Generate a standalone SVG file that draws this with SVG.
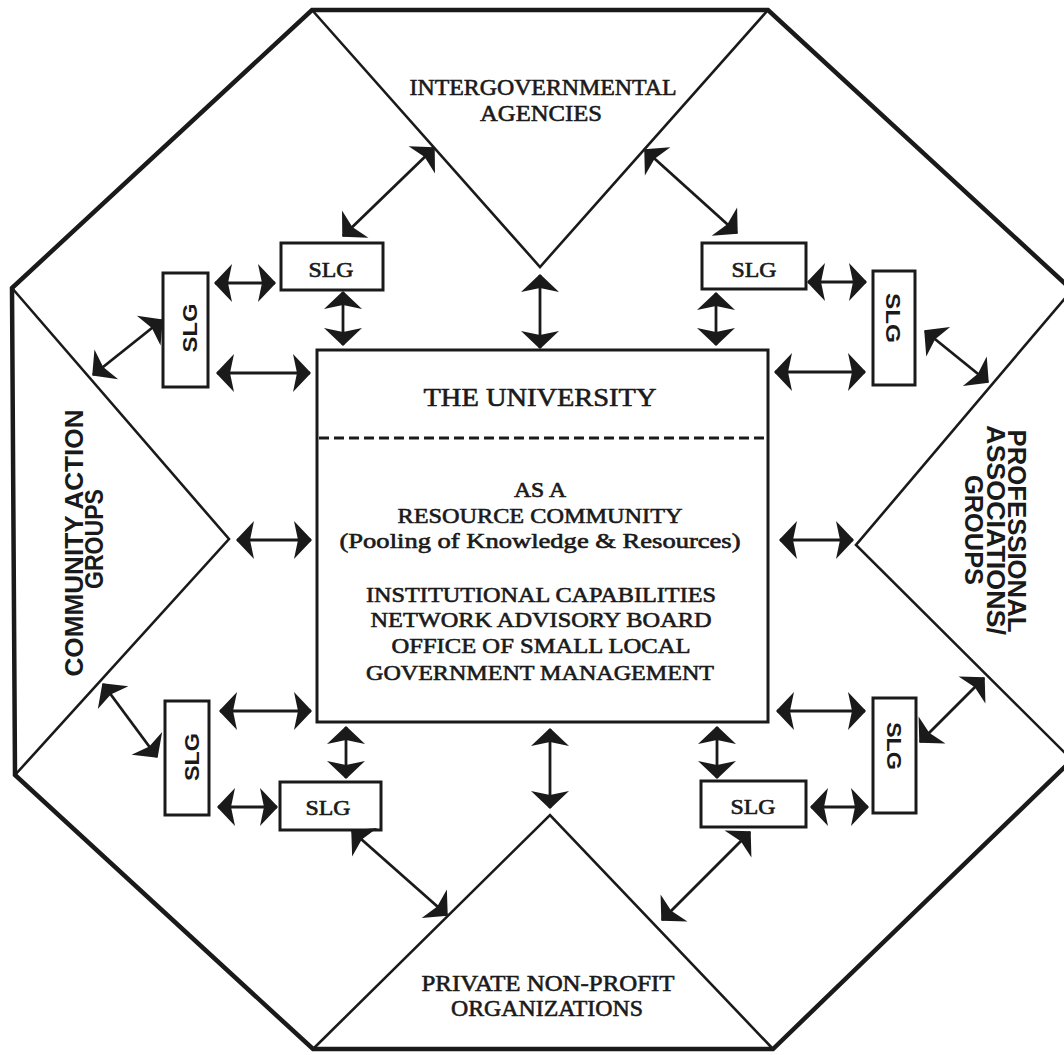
<svg xmlns="http://www.w3.org/2000/svg" width="1064" height="1055" viewBox="0 0 1064 1055">
<defs>
<style>
.frame{fill:none;stroke:#1a1a1a;stroke-width:4.5;stroke-linejoin:miter}
.tri{fill:none;stroke:#1a1a1a;stroke-width:2.6}
.box{fill:#fff;stroke:#1a1a1a;stroke-width:3}
.serif{font-family:"Liberation Serif","DejaVu Serif",serif;fill:#1a1a1a;stroke:#1a1a1a;stroke-width:0.6;text-anchor:middle}
.sans{font-family:"Liberation Sans","DejaVu Sans",sans-serif;font-weight:bold;fill:#1a1a1a;text-anchor:middle}
.arr{fill:none;stroke:#1a1a1a;stroke-width:2.8;marker-start:url(#ah);marker-end:url(#ah)}
</style>
<marker id="ah" markerUnits="userSpaceOnUse" markerWidth="44" markerHeight="44" viewBox="-22 -22 44 44" refX="0" refY="0" orient="auto-start-reverse">
<path d="M1,0 L-17,-19 L-13,0 L-17,19 Z" fill="#1a1a1a"/>
</marker>
</defs>
<rect width="1064" height="1055" fill="#fff"/>

<g id="frame">
<polygon class="frame" points="312,10 768,10 1072,290 1072,760 773,1049 313,1049 15,775 12,288"/>
</g>

<g id="intergovernmental-agencies">
<polyline class="tri" points="312,10 540,267 768,10"/>
<text class="serif" x="543" y="95" font-size="23" textLength="267" lengthAdjust="spacingAndGlyphs">INTERGOVERNMENTAL</text>
<text class="serif" x="541" y="121" font-size="23" textLength="122" lengthAdjust="spacingAndGlyphs">AGENCIES</text>
</g>

<g id="private-non-profit">
<polyline class="tri" points="313,1049 550,815 773,1049"/>
<text class="serif" x="548" y="991" font-size="23" textLength="253" lengthAdjust="spacingAndGlyphs">PRIVATE NON-PROFIT</text>
<text class="serif" x="547" y="1016" font-size="23" textLength="192" lengthAdjust="spacingAndGlyphs">ORGANIZATIONS</text>
</g>

<g id="community-action-groups">
<polyline class="tri" points="12,288 229,539 15,775"/>
<text class="sans" transform="translate(83,543) rotate(-90)" font-size="25" textLength="267" lengthAdjust="spacingAndGlyphs">COMMUNITY ACTION</text>
<text class="sans" transform="translate(103,539) rotate(-90)" font-size="25" textLength="100" lengthAdjust="spacingAndGlyphs">GROUPS</text>
</g>

<g id="professional-associations">
<polyline class="tri" points="1072,290 856,545 1072,760"/>
<text class="sans" transform="translate(1008,531) rotate(90)" font-size="25" textLength="203" lengthAdjust="spacingAndGlyphs">PROFESSIONAL</text>
<text class="sans" transform="translate(987,530) rotate(90)" font-size="25" textLength="210" lengthAdjust="spacingAndGlyphs">ASSOCIATIONS/</text>
<text class="sans" transform="translate(965,530) rotate(90)" font-size="25" textLength="110" lengthAdjust="spacingAndGlyphs">GROUPS</text>
</g>

<g id="university">
<rect class="box" x="317" y="350" width="451" height="372"/>
<line x1="319" y1="438" x2="766" y2="438" stroke="#1a1a1a" stroke-width="3" stroke-dasharray="10,5"/>
<text class="serif" x="540" y="406" font-size="26" textLength="233" lengthAdjust="spacingAndGlyphs">THE UNIVERSITY</text>
<text class="serif" x="540" y="497" font-size="21" textLength="52" lengthAdjust="spacingAndGlyphs">AS A</text>
<text class="serif" x="540" y="523" font-size="21" textLength="285" lengthAdjust="spacingAndGlyphs">RESOURCE COMMUNITY</text>
<text class="serif" x="540" y="548" font-size="21" textLength="401" lengthAdjust="spacingAndGlyphs">(Pooling of Knowledge &amp; Resources)</text>
<text class="serif" x="541" y="602" font-size="21" textLength="350" lengthAdjust="spacingAndGlyphs">INSTITUTIONAL CAPABILITIES</text>
<text class="serif" x="541" y="627" font-size="21" textLength="341" lengthAdjust="spacingAndGlyphs">NETWORK ADVISORY BOARD</text>
<text class="serif" x="541" y="653" font-size="21" textLength="299" lengthAdjust="spacingAndGlyphs">OFFICE OF SMALL LOCAL</text>
<text class="serif" x="540" y="680" font-size="21" textLength="348" lengthAdjust="spacingAndGlyphs">GOVERNMENT MANAGEMENT</text>
</g>

<g id="slg-top-left">
<rect class="box" x="281" y="243" width="102" height="47"/>
<text class="serif" x="331" y="277" font-size="20" textLength="45" lengthAdjust="spacingAndGlyphs">SLG</text>
</g>
<g id="slg-top-right">
<rect class="box" x="702" y="243" width="104" height="46"/>
<text class="serif" x="754" y="277" font-size="20" textLength="45" lengthAdjust="spacingAndGlyphs">SLG</text>
</g>
<g id="slg-bottom-left">
<rect class="box" x="280" y="782" width="101" height="48"/>
<text class="serif" x="328" y="815" font-size="20" textLength="45" lengthAdjust="spacingAndGlyphs">SLG</text>
</g>
<g id="slg-bottom-right">
<rect class="box" x="701" y="781" width="105" height="46"/>
<text class="serif" x="753" y="814" font-size="20" textLength="45" lengthAdjust="spacingAndGlyphs">SLG</text>
</g>
<g id="slg-left-upper">
<rect class="box" x="163" y="273" width="45" height="114"/>
<text class="sans" transform="translate(197,328) rotate(-90)" font-size="20" textLength="49" lengthAdjust="spacingAndGlyphs">SLG</text>
</g>
<g id="slg-left-lower">
<rect class="box" x="165" y="701" width="44" height="114"/>
<text class="sans" transform="translate(199,757) rotate(-90)" font-size="20" textLength="48" lengthAdjust="spacingAndGlyphs">SLG</text>
</g>
<g id="slg-right-upper">
<rect class="box" x="873" y="271" width="42" height="114"/>
<text class="sans" transform="translate(886,318) rotate(90)" font-size="20" textLength="50" lengthAdjust="spacingAndGlyphs">SLG</text>
</g>
<g id="slg-right-lower">
<rect class="box" x="873" y="698" width="43" height="115"/>
<text class="sans" transform="translate(887,746) rotate(90)" font-size="20" textLength="48" lengthAdjust="spacingAndGlyphs">SLG</text>
</g>

<g id="connectors">
<path class="arr" d="M215,283 H275"/>
<path class="arr" d="M343,292 V345"/>
<path class="arr" d="M540,275 V348"/>
<path class="arr" d="M716,293 V345"/>
<path class="arr" d="M808,282 H866"/>
<path class="arr" d="M217,373 H310"/>
<path class="arr" d="M775,372 H865"/>
<path class="arr" d="M237,540 H311"/>
<path class="arr" d="M780,540 H853"/>
<path class="arr" d="M220,711 H311"/>
<path class="arr" d="M777,711 H865"/>
<path class="arr" d="M346,727 V778"/>
<path class="arr" d="M550,729 V808"/>
<path class="arr" d="M717,727 V778"/>
<path class="arr" d="M218,807 H277"/>
<path class="arr" d="M811,807 H868"/>
<path class="arr" d="M343,236 L434,148"/>
<path class="arr" d="M645,150 L737,233"/>
<path class="arr" d="M93,375 L162,320"/>
<path class="arr" d="M925,331 L988,382"/>
<path class="arr" d="M103,684 L157,757"/>
<path class="arr" d="M920,742 L984,678"/>
<path class="arr" d="M352,831 L447,915"/>
<path class="arr" d="M750,832 L662,920"/>
</g>
</svg>
